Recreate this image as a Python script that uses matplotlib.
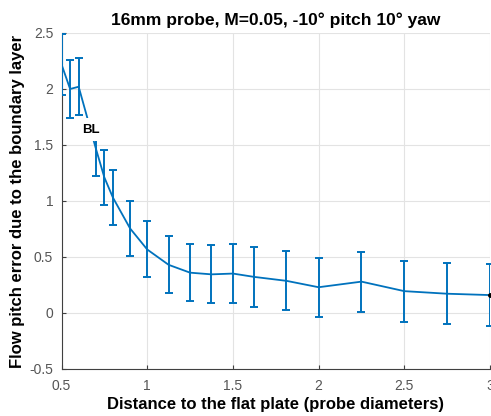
import matplotlib
matplotlib.use("Agg")
import matplotlib.pyplot as plt

# Distance to plate (probe diameters) and mean pitch error with spread
distance = [0.5, 0.55, 0.6, 0.7, 0.75, 0.8, 0.9, 1.0, 1.125, 1.25, 1.375,
            1.5, 1.625, 1.8125, 2.0, 2.25, 2.5, 2.75, 3.0]
pitch_err = [2.22, 2.0, 2.02, 1.47, 1.21, 1.03, 0.755, 0.567, 0.43, 0.36, 0.345,
             0.352, 0.322, 0.287, 0.23, 0.28, 0.195, 0.172, 0.16]
spread = [0.27, 0.257, 0.254, 0.25, 0.245, 0.247, 0.245, 0.25, 0.255, 0.257, 0.258,
          0.262, 0.266, 0.264, 0.265, 0.267, 0.272, 0.273, 0.273]

xticks = [0.5, 1, 1.5, 2, 2.5, 3]
yticks = [-0.5, 0, 0.5, 1, 1.5, 2, 2.5]

plt.rcParams['font.family'] = ['Liberation Sans', 'DejaVu Sans']

blue = '#0072BD'
fig = plt.figure(figsize=(4.91, 4.16), dpi=100)
ax = fig.add_axes([0.1253, 0.113, 0.8727, 0.8077])

ax.errorbar(distance, pitch_err, yerr=spread, color=blue, lw=1.3,
            elinewidth=1.4, capsize=3.2, capthick=1.4, zorder=3)
ax.plot(distance[-1], pitch_err[-1], 'o', color='black', ms=2.5, zorder=4)

ax.text(0.669, 1.635, 'BL', fontsize=9.5, fontweight='bold', ha='center', va='center',
        zorder=5, bbox=dict(facecolor='white', edgecolor='none', pad=4))

ax.set_xlim(0.5, 3)
ax.set_ylim(-0.5, 2.5)
ax.set_xticks(xticks)
ax.set_xticklabels(['0.5', '1', '1.5', '2', '2.5', '3'])
ax.set_yticks(yticks)
ax.set_yticklabels(['-0.5', '0', '0.5', '1', '1.5', '2', '2.5'])
ax.grid(True, color='#e3e3e3', lw=0.8)
ax.set_axisbelow(True)

for s in ['top', 'right']:
    ax.spines[s].set_visible(False)
for s in ['left', 'bottom']:
    ax.spines[s].set_color('#404040')
    ax.spines[s].set_linewidth(0.8)
ax.tick_params(direction='in', length=3, colors='#404040', labelsize=10,
               labelcolor='#555555')
ax.tick_params(axis='x', pad=7)
ax.tick_params(axis='y', pad=6)

ax.set_title('16mm probe, M=0.05, -10° pitch 10° yaw', fontsize=12.5,
             fontweight='bold', pad=6)
ax.set_xlabel('Distance to the flat plate (probe diameters)', fontsize=12,
              fontweight='bold', labelpad=3)
ax.set_ylabel('Flow pitch error due to the boundary layer', fontsize=12,
              fontweight='bold', labelpad=3)

fig.savefig('out.png', dpi=100)
